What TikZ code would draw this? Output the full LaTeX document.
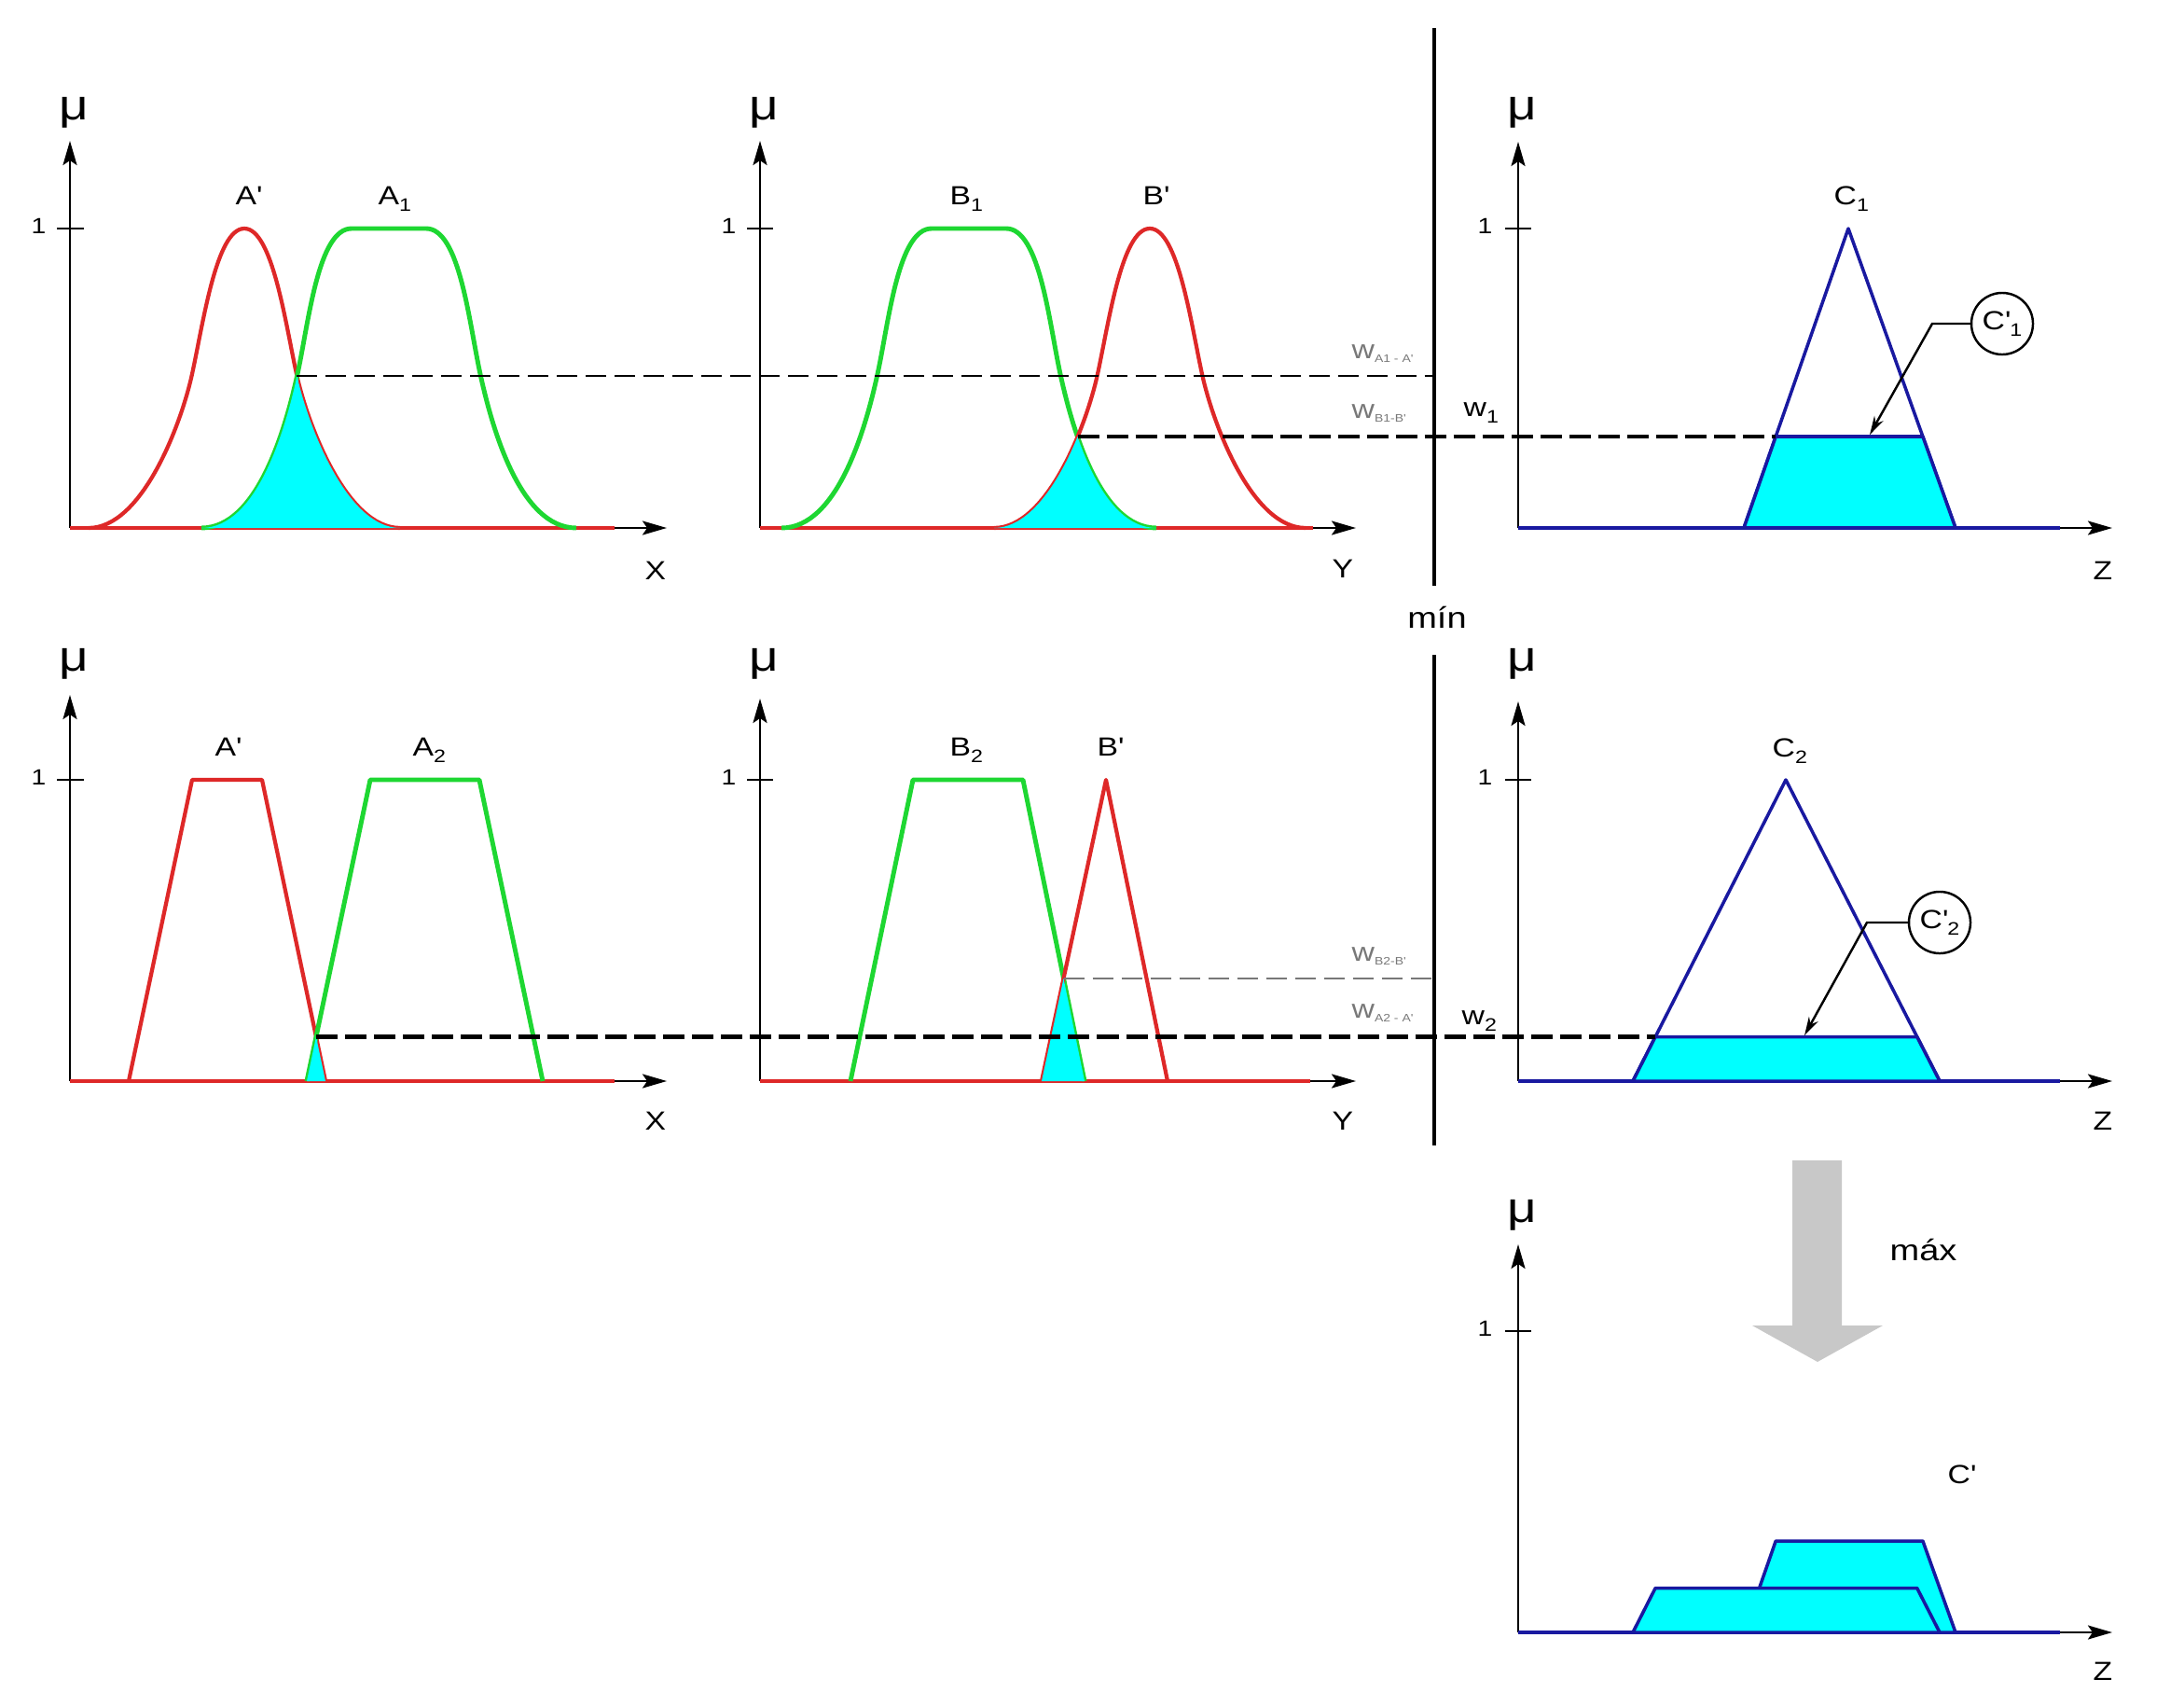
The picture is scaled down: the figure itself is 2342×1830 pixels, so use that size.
\documentclass[tikz,border=0pt]{standalone}
\usepackage{fontspec}
\setmainfont[FakeStretch=1.2]{Liberation Sans}
\usetikzlibrary{arrows.meta}
\definecolor{fred}{RGB}{222,40,40}
\definecolor{fgreen}{RGB}{30,215,50}
\definecolor{fblue}{RGB}{25,25,160}
\definecolor{fcyan}{RGB}{0,255,255}
\definecolor{wgray}{RGB}{120,120,120}
\definecolor{agray}{RGB}{200,200,200}
\newcommand{\lsub}[1]{\raisebox{-2pt}{\fontsize{5.5}{6}\selectfont #1}}
\newcommand{\wsub}[1]{\raisebox{-1.2pt}{\fontsize{3.3}{4}\selectfont #1}}
\newcommand{\ap}{\textquotesingle}
\begin{document}
\begin{tikzpicture}[x=0.01cm,y=-0.01cm,
  axisst/.style={line width=0.7pt,-{Stealth[length=0.26cm,width=0.15cm,inset=0.05cm]}},
  tickst/.style={line width=0.7pt},
  redc/.style={draw=fred,line width=1.2pt,line join=round},
  greenc/.style={draw=fgreen,line width=1.4pt,line join=round},
  bluec/.style={draw=fblue,line width=1pt,line join=round},
  trap/.style={fill=fcyan,draw=fblue,line width=1pt,line join=round},
  wthin/.style={line width=0.8pt,dash pattern=on 0.22cm off 0.09cm},
  wthick/.style={line width=1.4pt,dash pattern=on 0.23cm off 0.08cm},
  wgrayline/.style={draw=wgray,line width=0.8pt,dash pattern=on 0.22cm off 0.09cm},
  minline/.style={line width=0.9pt},
  lab/.style={inner sep=0pt,anchor=base west,font=\fontsize{8}{9}\selectfont},
  biglab/.style={inner sep=0pt,anchor=base west,font=\fontsize{9}{10}\selectfont},
  mulab/.style={inner sep=0pt,anchor=base west,font=\fontsize{13}{14}\selectfont},
  onelab/.style={inner sep=0pt,anchor=base west,font=\fontsize{6.7}{7}\selectfont},
  wlab/.style={inner sep=0pt,anchor=base west,text=wgray,font=\fontsize{8}{9}\selectfont},
  callout/.style={circle,draw,line width=0.7pt,minimum size=0.66cm,inner sep=0pt,font=\fontsize{8}{9}\selectfont},
  leader/.style={line width=0.7pt,-{Stealth[length=0.2cm,width=0.11cm]}},
]
\useasboundingbox (0,0) rectangle (2342,1830);

% ---------- coordinates ----------
\coordinate (o1) at (75,566);   \coordinate (o2) at (815,566);  \coordinate (o3) at (1628,566);
\coordinate (o4) at (75,1159);  \coordinate (o5) at (815,1159); \coordinate (o6) at (1628,1159);
\coordinate (o7) at (1628,1750);
\coordinate (x1) at (318,403);     % A' / A1 crossing
\coordinate (x2) at (1155.5,468);  % B1 / B' crossing
\coordinate (x3) at (339,1111.5);  % A' / A2 crossing
\coordinate (x4) at (1140.5,1049); % B2 / B' crossing
\coordinate (m1t) at (1538,30);  \coordinate (m1b) at (1538,628);
\coordinate (m2t) at (1538,702); \coordinate (m2b) at (1538,1228);
\coordinate (c1l) at (1904.2,468);  \coordinate (c1r) at (2061.9,468);
\coordinate (c2l) at (1775.1,1111.5); \coordinate (c2r) at (2055.7,1111.5);

% ---------- axes ----------
\draw[axisst] (o1) -- (75,151);   \draw[axisst] (o1) -- (715,566);  \draw[tickst] (61,245) -- (90,245);
\draw[axisst] (o2) -- (815,151);  \draw[axisst] (o2) -- (1454,566); \draw[tickst] (801,245) -- (829,245);
\draw[axisst] (o3) -- (1628,152); \draw[axisst] (o3) -- (2265,566); \draw[tickst] (1614,245) -- (1642,245);
\draw[axisst] (o4) -- (75,745);   \draw[axisst] (o4) -- (715,1159); \draw[tickst] (61,836) -- (90,836);
\draw[axisst] (o5) -- (815,749);  \draw[axisst] (o5) -- (1454,1159);\draw[tickst] (801,836) -- (829,836);
\draw[axisst] (o6) -- (1628,752); \draw[axisst] (o6) -- (2265,1159);\draw[tickst] (1614,836) -- (1642,836);
\draw[axisst] (o7) -- (1628,1334);\draw[axisst] (o7) -- (2265,1750);\draw[tickst] (1614,1427) -- (1642,1427);

% ---------- panel 1 : A', A1 ----------
\draw[redc] (o1) -- (659,566);
\draw[redc,shift={(262,566)}] (-167,0) .. controls (-110,0) and (-68,-110) .. (-56,-165) .. controls (-44,-220) and (-30,-321) .. (0,-321) .. controls (30,-321) and (44,-220) .. (56,-165) .. controls (68,-110) and (110,0) .. (167,0);
\draw[greenc,shift={(417,566)}] (-201,0) .. controls (-140,0) and (-110,-110) .. (-98,-165) .. controls (-86,-220) and (-76,-321) .. (-40,-321) -- (40,-321) .. controls (76,-321) and (86,-220) .. (98,-165) .. controls (110,-110) and (140,0) .. (201,0);
\begin{scope}
\clip[shift={(417,566)}] (-201,0) .. controls (-140,0) and (-110,-110) .. (-98,-165) .. controls (-86,-220) and (-76,-321) .. (-40,-321) -- (40,-321) .. controls (76,-321) and (86,-220) .. (98,-165) .. controls (110,-110) and (140,0) .. (201,0) -- cycle;
\fill[fcyan,shift={(262,566)}] (-167,0) .. controls (-110,0) and (-68,-110) .. (-56,-165) .. controls (-44,-220) and (-30,-321) .. (0,-321) .. controls (30,-321) and (44,-220) .. (56,-165) .. controls (68,-110) and (110,0) .. (167,0) -- cycle;
\end{scope}

% ---------- panel 2 : B1, B' ----------
\draw[redc] (o2) -- (1408,566);
\draw[greenc,shift={(1039,566)}] (-201,0) .. controls (-140,0) and (-110,-110) .. (-98,-165) .. controls (-86,-220) and (-76,-321) .. (-40,-321) -- (40,-321) .. controls (76,-321) and (86,-220) .. (98,-165) .. controls (110,-110) and (140,0) .. (201,0);
\draw[redc,shift={(1233,566)}] (-167,0) .. controls (-110,0) and (-68,-110) .. (-56,-165) .. controls (-44,-220) and (-30,-321) .. (0,-321) .. controls (30,-321) and (44,-220) .. (56,-165) .. controls (68,-110) and (110,0) .. (167,0);
\begin{scope}
\clip[shift={(1039,566)}] (-201,0) .. controls (-140,0) and (-110,-110) .. (-98,-165) .. controls (-86,-220) and (-76,-321) .. (-40,-321) -- (40,-321) .. controls (76,-321) and (86,-220) .. (98,-165) .. controls (110,-110) and (140,0) .. (201,0) -- cycle;
\fill[fcyan,shift={(1233,566)}] (-167,0) .. controls (-110,0) and (-68,-110) .. (-56,-165) .. controls (-44,-220) and (-30,-321) .. (0,-321) .. controls (30,-321) and (44,-220) .. (56,-165) .. controls (68,-110) and (110,0) .. (167,0) -- cycle;
\end{scope}

% ---------- panel 3 : C1 ----------
\draw[bluec] (o3) -- (2209,566);
\draw[bluec] (1870,566) -- (1982,245) -- (2097,566);
\draw[trap] (1870,566) -- (c1l) -- (c1r) -- (2097,566) -- cycle;

% ---------- panel 4 : A', A2 ----------
\draw[redc] (o4) -- (659,1159);
\draw[redc] (138,1159) -- (206,836) -- (281,836) -- (349,1159);
\draw[greenc] (329,1159) -- (397,836) -- (514,836) -- (582,1159);
\fill[fcyan] (329,1159) -- (x3) -- (349,1159) -- cycle;

% ---------- panel 5 : B2, B' ----------
\draw[redc] (o5) -- (1405,1159);
\draw[greenc] (912,1159) -- (979,836) -- (1097,836) -- (1163,1159);
\draw[redc] (1117,1159) -- (1186,836) -- (1252,1159);
\fill[fcyan] (1117,1159) -- (x4) -- (1163,1159) -- cycle;

% ---------- panel 6 : C2 ----------
\draw[bluec] (o6) -- (2209,1159);
\draw[bluec] (1751,1159) -- (1915,836) -- (2080,1159);
\draw[trap] (1751,1159) -- (c2l) -- (c2r) -- (2080,1159) -- cycle;

% ---------- panel 7 : C' ----------
\draw[bluec] (o7) -- (2209,1750);
\draw[trap] (1870,1750) -- (1904.2,1652) -- (2061.9,1652) -- (2097,1750) -- cycle;
\draw[trap] (1751,1750) -- (1775.1,1702.5) -- (2055.7,1702.5) -- (2080,1750) -- cycle;
\fill[agray] (1922,1244) -- (1975,1244) -- (1975,1421) -- (2019,1421) -- (1949,1460) -- (1879,1421) -- (1922,1421) -- cycle;

% ---------- min line and w-lines ----------
\draw[minline] (m1t) -- (m1b);
\draw[minline] (m2t) -- (m2b);
\draw[wthin] (x1) -- (x1 -| m1t);
\draw[wthick] (x2) -- (c1l);
\draw[wgrayline] (x4) -- (x4 -| m2t);
\draw[wthick] (x3) -- (c2l);

% ---------- labels ----------
\node[mulab] (mu1) at (63,128) {μ};
\node[onelab] (one1) at (33,250) {1};
\node[lab] (lAp1) at (252,219) {A\ap};
\node[lab] (lA1) at (405,219) {A\lsub{1}};
\node[lab] (lX1) at (691,621) {X};

\node[mulab] (mu2) at (803,128) {μ};
\node[onelab] (one2) at (773,250) {1};
\node[lab] (lB1) at (1018,219) {B\lsub{1}};
\node[lab] (lBp1) at (1225,219) {B\ap};
\node[lab] (lY1) at (1428,619) {Y};
\node[wlab] (wa1) at (1449,384) {w\wsub{A1 - A\ap}};
\node[wlab] (wb1) at (1449,448) {w\wsub{B1-B\ap}};

\node[mulab] (mu3) at (1616,128) {μ};
\node[onelab] (one3) at (1584,250) {1};
\node[lab] (lC1) at (1966,219) {C\lsub{1}};
\node[lab] (lw1) at (1569,446) {w\lsub{1}};
\node[lab] (lZ1) at (2244,621) {Z};
\node[callout] (c1n) at (2147,347) {C\ap\lsub{1}};

\node[biglab,anchor=base] (lmin) at (1541,673) {mín};

\node[mulab] (mu4) at (63,719) {μ};
\node[onelab] (one4) at (33,841) {1};
\node[lab] (lAp2) at (230,810) {A\ap};
\node[lab] (lA2) at (442,810) {A\lsub{2}};
\node[lab] (lX2) at (691,1211) {X};

\node[mulab] (mu5) at (803,719) {μ};
\node[onelab] (one5) at (773,841) {1};
\node[lab] (lB2) at (1018,810) {B\lsub{2}};
\node[lab] (lBp2) at (1176,810) {B\ap};
\node[lab] (lY2) at (1428,1211) {Y};
\node[wlab] (wb2) at (1449,1030) {w\wsub{B2-B\ap}};
\node[wlab] (wa2) at (1449,1091) {w\wsub{A2 - A\ap}};

\node[mulab] (mu6) at (1616,719) {μ};
\node[onelab] (one6) at (1584,841) {1};
\node[lab] (lC2) at (1900,811) {C\lsub{2}};
\node[lab] (lw2) at (1567,1098) {w\lsub{2}};
\node[lab] (lZ2) at (2244,1211) {Z};
\node[callout] (c2n) at (2080,989) {C\ap\lsub{2}};

\node[mulab] (mu7) at (1616,1310) {μ};
\node[onelab] (one7) at (1584,1432) {1};
\node[biglab] (lmax) at (2026,1351) {máx};
\node[lab] (lCp) at (2088,1590) {C\ap};
\node[lab] (lZ3) at (2244,1801) {Z};

% ---------- callout leaders ----------
\coordinate (k1) at (2072,347);  \coordinate (t1) at (2005,466);
\coordinate (k2) at (2002,989);  \coordinate (t2) at (1935,1110);
\draw[leader] (c1n.west) -- (k1) -- (t1);
\draw[leader] (c2n.west) -- (k2) -- (t2);
\end{tikzpicture}
\end{document}
